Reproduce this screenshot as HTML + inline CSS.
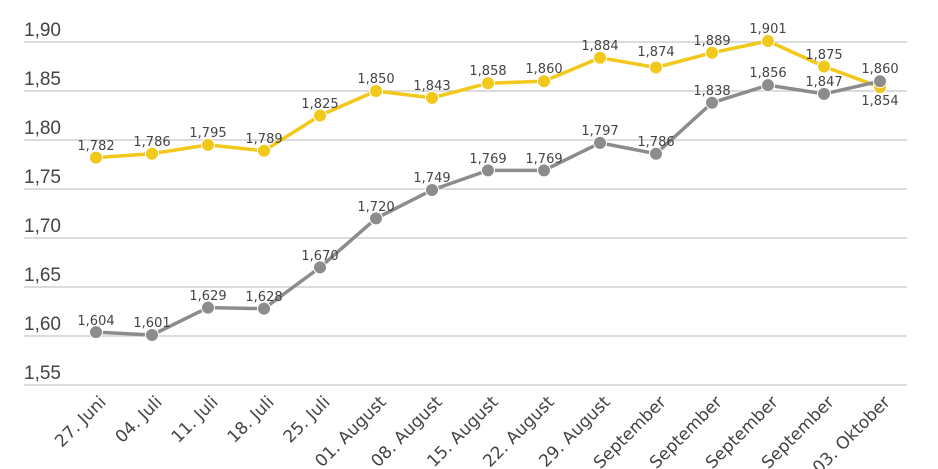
<!DOCTYPE html>
<html><head><meta charset="utf-8"><style>
body{margin:0;background:#fff}
svg{display:block;font-family:"Liberation Sans","DejaVu Sans",sans-serif}
</style></head><body>
<svg width="938" height="469" viewBox="0 0 938 469">
<g stroke="#d0d0d0" stroke-width="1.5">
<line x1="24" x2="907" y1="42" y2="42"/><line x1="24" x2="907" y1="91" y2="91"/>
<line x1="24" x2="907" y1="140" y2="140"/><line x1="24" x2="907" y1="189" y2="189"/>
<line x1="24" x2="907" y1="238" y2="238"/><line x1="24" x2="907" y1="287" y2="287"/>
<line x1="24" x2="907" y1="336" y2="336"/><line x1="24" x2="907" y1="385" y2="385"/>
</g>
<g fill="#444" font-size="19">
<text x="24" y="36">1,90</text><text x="24" y="85">1,85</text><text x="24" y="134">1,80</text>
<text x="24" y="183">1,75</text><text x="24" y="232">1,70</text><text x="24" y="281">1,65</text>
<text x="24" y="330">1,60</text><text x="24" y="379">1,55</text>
</g>
<g fill="#444" font-size="17" text-anchor="end" style="font-family:'DejaVu Sans',sans-serif">
<text transform="translate(107,403) rotate(-45)">27. Juni</text>
<text transform="translate(163,403) rotate(-45)">04. Juli</text>
<text transform="translate(219,403) rotate(-45)">11. Juli</text>
<text transform="translate(275,403) rotate(-45)">18. Juli</text>
<text transform="translate(331,403) rotate(-45)">25. Juli</text>
<text transform="translate(387,403) rotate(-45)">01. August</text>
<text transform="translate(443,403) rotate(-45)">08. August</text>
<text transform="translate(499,403) rotate(-45)">15. August</text>
<text transform="translate(555,403) rotate(-45)">22. August</text>
<text transform="translate(611,403) rotate(-45)">29. August</text>
<text transform="translate(667,403) rotate(-45)">05. September</text>
<text transform="translate(723,403) rotate(-45)">12. September</text>
<text transform="translate(779,403) rotate(-45)">19. September</text>
<text transform="translate(835,403) rotate(-45)">26. September</text>
<text transform="translate(891,403) rotate(-45)">03. Oktober</text>
</g>
<g stroke-linejoin="round">
<polyline fill="none" stroke="#f2c81b" stroke-width="3.5" points="96,157.6 152,153.7 208,144.9 264,150.8 320,115.5 376,91 432,97.9 488,83.2 544,81.2 600,57.7 656,67.5 712,52.8 768,41 824,66.5 880,87.1"/>
<g fill="#f2c81b" stroke="#fff" stroke-width="1">
<circle cx="96" cy="157.6" r="6.5"/><circle cx="152" cy="153.7" r="6.5"/><circle cx="208" cy="144.9" r="6.5"/><circle cx="264" cy="150.8" r="6.5"/><circle cx="320" cy="115.5" r="6.5"/><circle cx="376" cy="91" r="6.5"/><circle cx="432" cy="97.9" r="6.5"/><circle cx="488" cy="83.2" r="6.5"/><circle cx="544" cy="81.2" r="6.5"/><circle cx="600" cy="57.7" r="6.5"/><circle cx="656" cy="67.5" r="6.5"/><circle cx="712" cy="52.8" r="6.5"/><circle cx="768" cy="41" r="6.5"/><circle cx="824" cy="66.5" r="6.5"/><circle cx="880" cy="87.1" r="6.5"/>
</g>
<polyline fill="none" stroke="#8c8c8c" stroke-width="3.5" points="96,332.1 152,335 208,307.6 264,308.6 320,267.4 376,218.4 432,190 488,170.4 544,170.4 600,142.9 656,153.7 712,102.8 768,85.1 824,93.9 880,81.2"/>
<g fill="#8c8c8c" stroke="#fff" stroke-width="1">
<circle cx="96" cy="332.1" r="6.5"/><circle cx="152" cy="335" r="6.5"/><circle cx="208" cy="307.6" r="6.5"/><circle cx="264" cy="308.6" r="6.5"/><circle cx="320" cy="267.4" r="6.5"/><circle cx="376" cy="218.4" r="6.5"/><circle cx="432" cy="190" r="6.5"/><circle cx="488" cy="170.4" r="6.5"/><circle cx="544" cy="170.4" r="6.5"/><circle cx="600" cy="142.9" r="6.5"/><circle cx="656" cy="153.7" r="6.5"/><circle cx="712" cy="102.8" r="6.5"/><circle cx="768" cy="85.1" r="6.5"/><circle cx="824" cy="93.9" r="6.5"/><circle cx="880" cy="81.2" r="6.5"/>
</g>
</g>
<g fill="#444" font-size="13" text-anchor="middle" style="font-family:'DejaVu Sans',sans-serif">
<text x="96" y="150">1,782</text><text x="152" y="146">1,786</text><text x="208" y="137">1,795</text><text x="264" y="143">1,789</text><text x="320" y="108">1,825</text><text x="376" y="83">1,850</text><text x="432" y="90">1,843</text><text x="488" y="75">1,858</text><text x="544" y="73">1,860</text><text x="600" y="50">1,884</text><text x="656" y="56">1,874</text><text x="712" y="45">1,889</text><text x="768" y="33">1,901</text><text x="824" y="59">1,875</text><text x="880" y="105">1,854</text>
<text x="96" y="325">1,604</text><text x="152" y="327">1,601</text><text x="208" y="300">1,629</text><text x="264" y="301">1,628</text><text x="320" y="260">1,670</text><text x="376" y="211">1,720</text><text x="432" y="182">1,749</text><text x="488" y="163">1,769</text><text x="544" y="163">1,769</text><text x="600" y="135">1,797</text><text x="656" y="146">1,786</text><text x="712" y="95">1,838</text><text x="768" y="77">1,856</text><text x="824" y="86">1,847</text><text x="880" y="73">1,860</text>
</g>
</svg>
</body></html>
